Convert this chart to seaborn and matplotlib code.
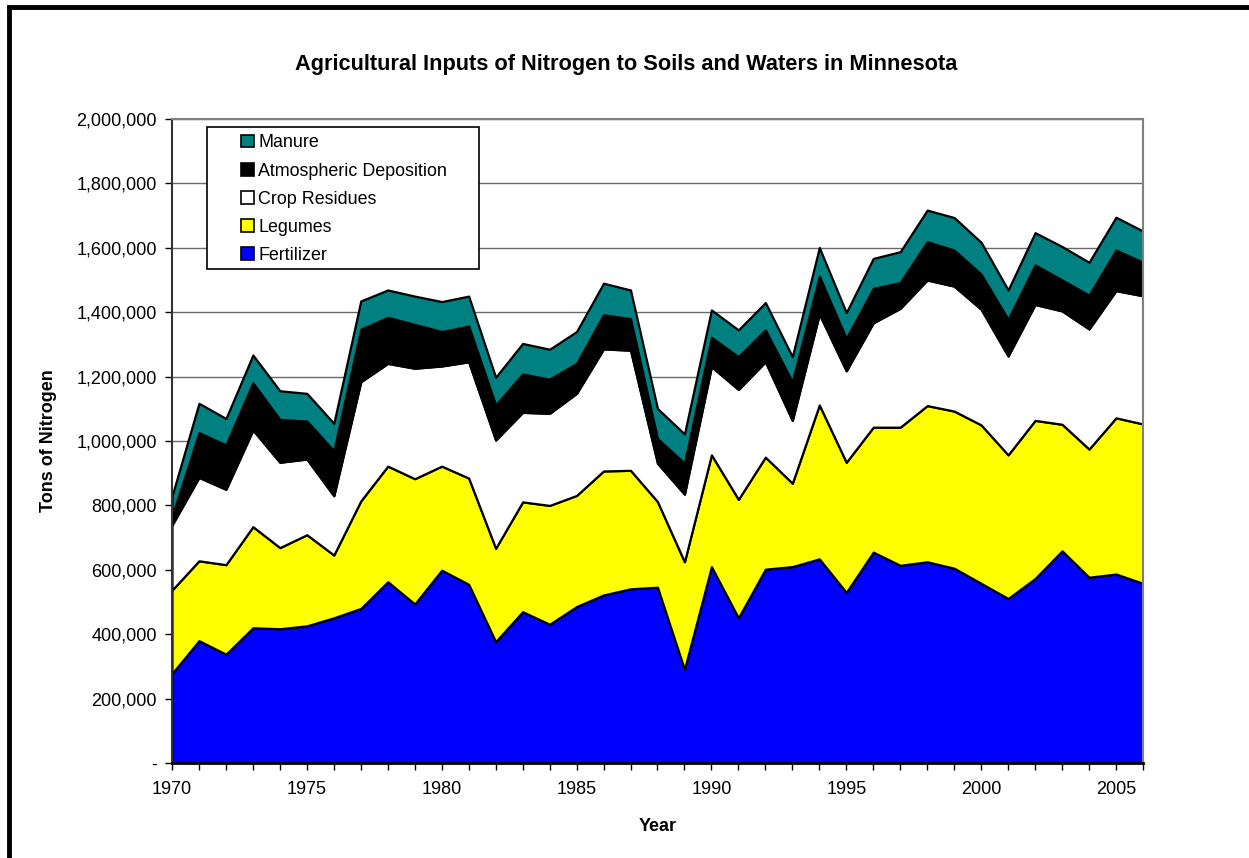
import numpy as np
import pandas as pd
import seaborn as sns
import matplotlib.pyplot as plt
from matplotlib.patches import Patch, Rectangle
from matplotlib.ticker import FuncFormatter, MultipleLocator

# valores (mil toneladas)
years = list(range(1970, 2007))
fertilizer = [278, 380, 338, 420, 417, 426, 451, 480, 563, 494, 599, 555, 377, 470, 431, 486,
              522, 541, 546, 291, 610, 451, 602, 610, 634, 530, 655, 614, 625, 605, 558, 511,
              573, 659, 577, 587, 558]
legumes = [259, 248, 278, 314, 252, 283, 195, 334, 359, 389, 323, 330, 290, 341, 369, 345,
           385, 368, 266, 334, 347, 368, 348, 259, 478, 404, 388, 429, 485, 488, 492, 446,
           491, 393, 398, 485, 495]
crop_residues = [202, 259, 234, 300, 265, 235, 184, 370, 319, 343, 311, 361, 336, 278, 286, 317,
                 379, 373, 119, 210, 274, 341, 296, 195, 282, 284, 324, 369, 390, 388, 359, 307,
                 360, 352, 373, 395, 398]
atmospheric = [26, 139, 138, 147, 133, 118, 140, 163, 143, 136, 107, 111, 109, 119, 106, 93,
               106, 98, 77, 96, 91, 102, 99, 120, 118, 101, 107, 80, 119, 112, 109, 114,
               123, 96, 105, 126, 104]
manure = [64, 91, 82, 86, 89, 86, 85, 88, 85, 88, 93, 93, 86, 95, 93, 99,
          98, 89, 93, 91, 85, 83, 85, 78, 89, 80, 93, 96, 98, 101, 99, 91,
          100, 104, 102, 102, 97]

series = ["Fertilizer", "Legumes", "Crop Residues", "Atmospheric Deposition", "Manure"]
colors = ["#0000FF", "#FFFF00", "#FFFFFF", "#000000", "#008080"]

df = pd.DataFrame({"Year": years, "Fertilizer": fertilizer, "Legumes": legumes,
                   "Crop Residues": crop_residues, "Atmospheric Deposition": atmospheric,
                   "Manure": manure})
df[series] = df[series] * 1000

sns.set_style("white")
plt.rcParams["font.family"] = ["Liberation Sans", "DejaVu Sans"]
plt.rcParams["text.color"] = "black"
plt.rcParams["axes.labelcolor"] = "black"
plt.rcParams["xtick.color"] = "black"
plt.rcParams["ytick.color"] = "black"

fig = plt.figure(figsize=(12.49, 8.58), dpi=100)
ax = fig.add_axes([0.1377, 0.1107, 0.7774, 0.7506])

# linhas de grade
for v in range(200000, 2000001, 200000):
    ax.axhline(v, color="#6a6a6a", lw=1, zorder=0)

ax.stackplot(df["Year"], [df[s] for s in series], colors=colors,
             edgecolor="black", linewidth=1.6, zorder=2)

ax.set_xlim(1970, 2006)
ax.set_ylim(0, 2000000)
ax.xaxis.set_major_locator(MultipleLocator(5))
ax.xaxis.set_minor_locator(MultipleLocator(1))
ax.yaxis.set_major_locator(MultipleLocator(200000))
ax.yaxis.set_major_formatter(FuncFormatter(lambda v, p: "-" if v == 0 else f"{int(v):,}"))
ax.tick_params(axis="both", which="both", direction="out", length=5, width=1,
               color="black", labelcolor="black", labelsize=13, left=True, bottom=True)
ax.tick_params(axis="x", pad=8)
ax.tick_params(axis="y", pad=6)

for side in ["top", "right"]:
    ax.spines[side].set_color("#808080")
    ax.spines[side].set_linewidth(1.5)
ax.spines["left"].set_color("#333333")
ax.spines["bottom"].set_color("black")
ax.spines["left"].set_linewidth(1.5)
ax.spines["bottom"].set_linewidth(2)

ax.set_xlabel("Year", fontsize=13, fontweight="bold", labelpad=14)
ax.set_ylabel("Tons of Nitrogen", fontsize=13, fontweight="bold", labelpad=14)
fig.text(0.501, 0.925, "Agricultural Inputs of Nitrogen to Soils and Waters in Minnesota",
         ha="center", va="center", fontsize=15.7, fontweight="bold")

# caixa da legenda
ax.add_patch(Rectangle((0.036, 0.767), 0.2802, 0.2206, transform=ax.transAxes,
                       facecolor="white", edgecolor="black", lw=1.2, zorder=4))
handles = [Patch(facecolor=c, edgecolor="black", lw=1.2, label=s)
           for s, c in zip(series, colors)][::-1]
ax.legend(handles=handles, loc="upper left", bbox_to_anchor=(0.062, 0.99),
          frameon=False, fontsize=12.9, borderpad=0, labelspacing=0.62,
          handlelength=0.7, handleheight=0.7, handletextpad=0.25)

# moldura externa
fig.patches.append(Rectangle((0.0072, -0.2), 1.5, 1.1918, transform=fig.transFigure,
                             fill=False, edgecolor="black", lw=3.5))

plt.savefig("out.png", dpi=100)
